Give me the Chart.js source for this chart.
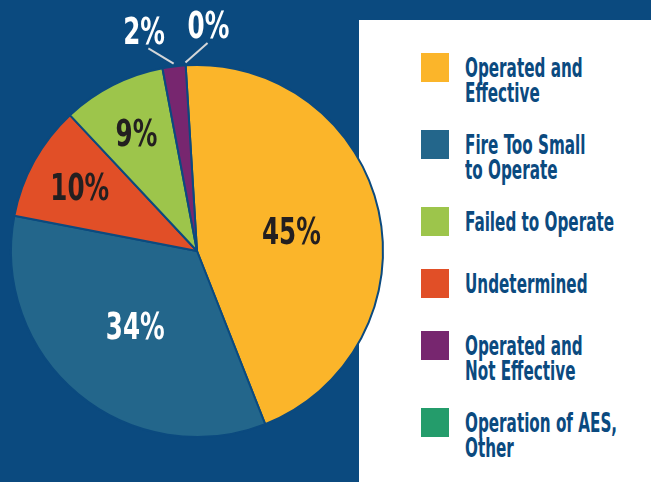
<!DOCTYPE html>
<html lang="en">
<head>
  <meta charset="UTF-8" />
  <title>Sprinkler Performance</title>
  <script src="https://cdn.jsdelivr.net/npm/chart.js"></script>
  <style>
    html, body { margin: 0; padding: 0; }
    body { width: 651px; height: 482px; background: #0b4a7f; position: relative; overflow: hidden;
           font-family: 'DejaVu Sans Condensed', sans-serif; }
    #panel { position: absolute; left: 359px; top: 20px; width: 292px; height: 462px; background: #fff; }
    #legend { position: absolute; left: 62px; top: 33px; }
    .item { display: flex; align-items: flex-start; margin-bottom: 24px; min-height: 38px; }
    .swatch { width: 28px; height: 29px; flex: none; }
    .text { margin-left: 16px; margin-top: 3px; color: #0b4a7f; font-weight: bold; font-size: 26px;
            line-height: 25px; white-space: nowrap; transform: scaleX(0.65); transform-origin: left top; }
    #pie { position: absolute; left: 0; top: 0; }
  </style>
</head>
<body>
  <div id="panel"><div id="legend"></div></div>
  <canvas id="pie" width="394" height="482"></canvas>

  <script>
    // slices, clockwise from the top
    const categories = [
      ['Operated and', 'Effective'],
      ['Fire Too Small', 'to Operate'],
      ['Undetermined'],
      ['Failed to Operate'],
      ['Operated and', 'Not Effective'],
      ['Operation of AES,', 'Other']
    ];
    const shares = [45, 34, 10, 9, 2, 0];
    const sliceColors = ['#fbb52a', '#23668b', '#e14f27', '#9dc54b', '#77266f', '#249c6b'];
    const labelColors = ['#231f20', '#ffffff', '#231f20', '#231f20', '#ffffff', '#ffffff'];
    // order the legend lists them in
    const legendOrder = [0, 1, 3, 2, 4, 5];

    const BG = '#0b4a7f';

    // percentage labels: inside for the big slices, outside with a leader line for tiny ones
    const pctLabels = {
      id: 'pctLabels',
      afterDatasetsDraw(chart) {
        const ctx = chart.ctx;
        const arcs = chart.getDatasetMeta(0).data;
        ctx.save();
        ctx.font = 'bold 38px "DejaVu Sans Condensed", sans-serif';
        ctx.textAlign = 'center';
        ctx.textBaseline = 'alphabetic';

        // narrow the glyphs horizontally
        const put = (txt, x, y, color) => {
          const m = ctx.measureText(txt);
          ctx.save();
          ctx.translate(x, y + m.actualBoundingBoxAscent / 2);
          ctx.scale(0.72, 1);
          ctx.fillStyle = color;
          ctx.fillText(txt, 0, 0);
          ctx.restore();
        };

        const small = [];
        arcs.forEach((arc, i) => {
          const p = arc.getProps(['x', 'y', 'startAngle', 'endAngle', 'outerRadius'], true);
          const mid = (p.startAngle + p.endAngle) / 2;
          const v = shares[i];
          if (v < 5) { small.push({ i, p, mid }); return; }
          const r = p.outerRadius * (v >= 20 ? 0.52 : 0.72);
          put(v + '%', p.x + Math.cos(mid) * r, p.y + Math.sin(mid) * r, labelColors[i]);
        });

        if (small.length) {
          const mean = small.reduce((s, o) => s + o.mid, 0) / small.length;
          const spread = 8.2 * Math.PI / 180;
          small.forEach((o, k) => {
            const a = mean + (k - (small.length - 1) / 2) * 2 * spread;
            const { x, y, outerRadius: R } = o.p;
            ctx.strokeStyle = '#d4d6d8';
            ctx.lineWidth = 2;
            ctx.beginPath();
            ctx.moveTo(x + Math.cos(o.mid) * R * 1.015, y + Math.sin(o.mid) * R * 1.015);
            ctx.lineTo(x + Math.cos(a) * R * 1.12, y + Math.sin(a) * R * 1.12);
            ctx.stroke();
            put(shares[o.i] + '%', x + Math.cos(a) * R * 1.22, y + Math.sin(a) * R * 1.22, labelColors[o.i]);
          });
        }
        ctx.restore();
      }
    };

    const chart = new Chart(document.getElementById('pie').getContext('2d'), {
      type: 'pie',
      data: {
        labels: categories,
        datasets: [{
          data: shares,
          backgroundColor: sliceColors,
          borderColor: BG,
          borderWidth: 2
        }]
      },
      options: {
        responsive: false,
        animation: false,
        rotation: -3.5,
        layout: { padding: { top: 64, bottom: 44, left: 10, right: 10 } },
        plugins: {
          legend: { display: false },
          tooltip: { enabled: false }
        }
      },
      plugins: [pctLabels]
    });

    // legend on the white panel
    const legendEl = document.getElementById('legend');
    legendOrder.forEach(i => {
      const item = document.createElement('div');
      item.className = 'item';
      item.innerHTML = '<div class="swatch" style="background:' + sliceColors[i] + '"></div>' +
        '<div class="text">' + chart.data.labels[i].join('<br>') + '</div>';
      legendEl.appendChild(item);
    });
  </script>
</body>
</html>
